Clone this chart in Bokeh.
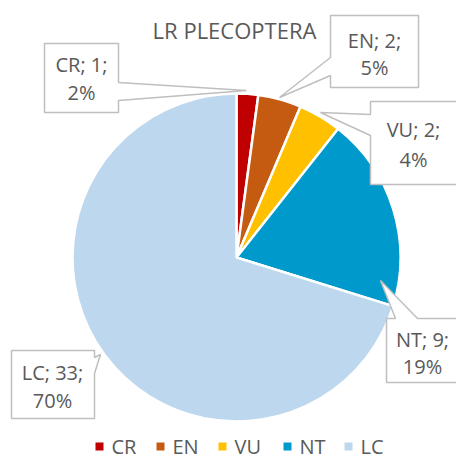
import math
from bokeh.plotting import figure
from bokeh.models import ColumnDataSource, Range1d
from bokeh.core.properties import value
from bokeh.embed import file_html
from bokeh.resources import INLINE

# ---- data ----
categories = ["CR", "EN", "VU", "NT", "LC"]
counts = [1, 2, 2, 9, 33]
pct_labels = ["2%", "5%", "4%", "19%", "70%"]
colors = ["#C00000", "#C55A11", "#FFC000", "#0099CC", "#BDD7EE"]
title_text = "LR PLECOPTERA"

FONT = "Open Sans"
TXT = "#595959"
W, H = 456, 461

def Y(img_y):
    return H - img_y

p = figure(width=W, height=H, output_backend="svg", toolbar_location=None,
           x_range=Range1d(0, W), y_range=Range1d(0, H),
           x_axis_type=None, y_axis_type=None, min_border=0)
p.grid.visible = False
p.outline_line_color = None
p.background_fill_color = "white"

# ---- pie ----
total = sum(counts)
starts, ends = [], []
cum = 0
for c in counts:
    starts.append(math.pi / 2 - 2 * math.pi * cum / total)
    cum += c
    ends.append(math.pi / 2 - 2 * math.pi * cum / total)
src = ColumnDataSource(dict(start=starts, end=ends, color=colors, cat=categories))
cx, cy, r = 236, Y(257), 164
p.wedge(x=cx, y=cy, radius=r, start_angle="start", end_angle="end",
        direction="clock", fill_color="color", line_color="white",
        line_width=2.5, source=src)

# ---- title ----
p.text(x=[234], y=[Y(29)], text=[title_text], text_font=value(FONT),
       text_font_size="22px", text_color=TXT, text_align="center",
       text_baseline="middle")

# ---- callouts (layout, image pixel coords) ----
callout_polys = {
    "CR": [(44, 43), (118, 43), (118, 82), (246, 90), (118, 100), (118, 112), (44, 112)],
    "EN": [(330, 15), (418, 15), (418, 87), (330, 87), (330, 75), (279, 97), (330, 57)],
    "VU": [(370, 101), (470, 101), (470, 184), (370, 184), (370, 135), (320, 112), (370, 114)],
    "NT": [(386, 318), (395, 318), (380, 280), (417, 318), (470, 318), (470, 382), (386, 382)],
    "LC": [(11, 350), (94, 350), (94, 357), (100, 354), (94, 373), (94, 418), (11, 418)],
}
label_pos = {
    "CR": (81, 64, 92),
    "EN": (374, 40, 67),
    "VU": (413, 129, 159),
    "NT": (422, 339, 366),
    "LC": (52, 372, 400),
}
for cat, cnt, pl in zip(categories, counts, pct_labels):
    pts = callout_polys[cat]
    p.patch([q[0] for q in pts], [Y(q[1]) for q in pts], fill_color="white",
            line_color="#BFBFBF", line_width=1.5)
    lx, ly1, ly2 = label_pos[cat]
    p.text(x=[lx, lx], y=[Y(ly1), Y(ly2)], text=[f"{cat}; {cnt};", pl],
           text_font=value(FONT), text_font_size="20px", text_color=TXT,
           text_align="center", text_baseline="middle")

# ---- legend ----
leg_x = [99, 160, 222, 287, 348]
leg_y = Y(446)
p.scatter(x=leg_x, y=[leg_y] * 5, marker="square", size=8, fill_color=colors,
          line_color=None)
p.text(x=[x + 12 for x in leg_x], y=[leg_y] * 5, text=categories,
       text_font=value(FONT), text_font_size="20px", text_color=TXT,
       text_align="left", text_baseline="middle")

open("out.html", "w").write(file_html(p, INLINE))
